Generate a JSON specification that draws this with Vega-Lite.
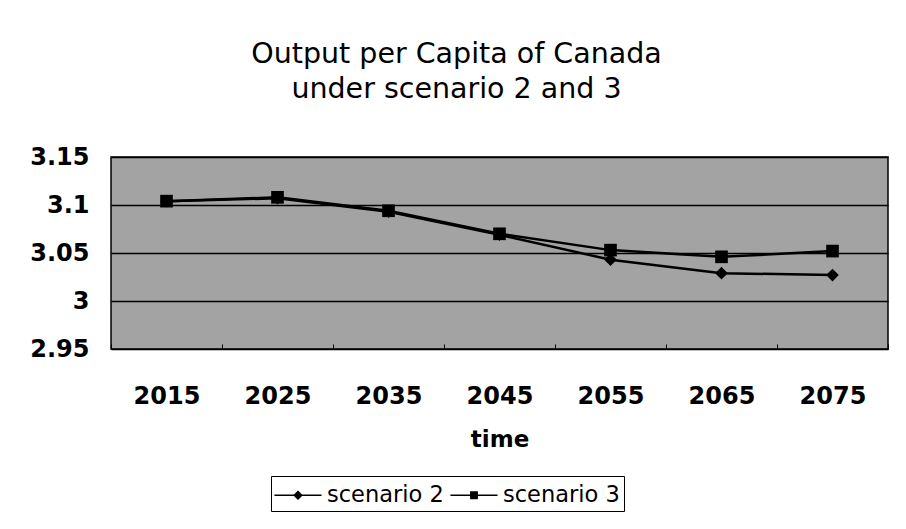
{
  "$schema": "https://vega.github.io/schema/vega-lite/v6.json",
  "width": 777,
  "height": 192,
  "autosize": {"type": "none"},
  "padding": {"left": 111, "top": 157, "right": 18, "bottom": 180},
  "background": "white",
  "title": {
    "text": ["Output per Capita of Canada", "under scenario 2 and 3"],
    "anchor": "middle",
    "frame": "group",
    "dx": -43,
    "offset": 42,
    "font": "DejaVu Sans, sans-serif",
    "fontSize": 28.5,
    "fontWeight": "normal",
    "lineHeight": 35,
    "color": "black"
  },
  "data": {
    "values": [
      {"year": "2015", "scenario": "scenario 2", "value": 3.104},
      {"year": "2025", "scenario": "scenario 2", "value": 3.107},
      {"year": "2035", "scenario": "scenario 2", "value": 3.093},
      {"year": "2045", "scenario": "scenario 2", "value": 3.069},
      {"year": "2055", "scenario": "scenario 2", "value": 3.043},
      {"year": "2065", "scenario": "scenario 2", "value": 3.029},
      {"year": "2075", "scenario": "scenario 2", "value": 3.027},
      {"year": "2015", "scenario": "scenario 3", "value": 3.104},
      {"year": "2025", "scenario": "scenario 3", "value": 3.108},
      {"year": "2035", "scenario": "scenario 3", "value": 3.094},
      {"year": "2045", "scenario": "scenario 3", "value": 3.070},
      {"year": "2055", "scenario": "scenario 3", "value": 3.053},
      {"year": "2065", "scenario": "scenario 3", "value": 3.046},
      {"year": "2075", "scenario": "scenario 3", "value": 3.052}
    ]
  },
  "encoding": {
    "x": {
      "field": "year",
      "type": "ordinal",
      "scale": {"paddingInner": 0, "paddingOuter": 0},
      "axis": {
        "title": "time",
        "labelAngle": 0,
        "grid": false,
        "domain": false,
        "ticks": true,
        "tickBand": "extent",
        "tickSize": -5,
        "tickColor": "black",
        "labelFontSize": 24,
        "labelFontWeight": "bold",
        "labelPadding": 40,
        "titleFontSize": 23,
        "titleFontWeight": "bold",
        "titlePadding": 20
      }
    },
    "y": {
      "field": "value",
      "type": "quantitative",
      "scale": {"domain": [2.95, 3.15], "zero": false, "nice": false},
      "axis": {
        "title": null,
        "values": [2.95, 3, 3.05, 3.1, 3.15],
        "format": ".2~f",
        "grid": true,
        "gridColor": "black",
        "gridWidth": 1.5,
        "gridOpacity": 1,
        "domain": false,
        "ticks": false,
        "labelFontSize": 24,
        "labelFontWeight": "bold",
        "labelPadding": 22
      }
    }
  },
  "layer": [
    {
      "mark": {"type": "line", "color": "black", "strokeWidth": 2.5},
      "encoding": {"detail": {"field": "scenario"}}
    },
    {
      "mark": {"type": "point", "filled": true, "color": "black", "opacity": 1, "size": 160},
      "encoding": {
        "shape": {
          "field": "scenario",
          "type": "nominal",
          "scale": {"domain": ["scenario 2", "scenario 3"], "range": ["diamond", "square"]},
          "legend": null
        }
      }
    },
    {
      "mark": {"type": "point", "filled": true, "color": "black", "opacity": 0, "size": 10},
      "encoding": {
        "shape": {
          "field": "scenario",
          "type": "nominal",
          "scale": {
            "domain": ["scenario 2", "scenario 3"],
            "range": [
              "M-1.57,-0.055H1.57V0.055H-1.57Z M0,-0.32L0.32,0L0,0.32L-0.32,0Z",
              "M-1.57,-0.055H1.57V0.055H-1.57Z M-0.26,-0.26H0.26V0.26H-0.26Z"
            ]
          },
          "legend": {
            "title": null,
            "orient": "none",
            "direction": "horizontal",
            "legendX": 160,
            "legendY": 319,
            "strokeColor": "black",
            "padding": 4,
            "symbolSize": 900,
            "symbolOffset": 8,
            "symbolStrokeWidth": 0,
            "symbolFillColor": "black",
            "symbolOpacity": 1,
            "labelFontSize": 22.5,
            "labelColor": "black",
            "labelOffset": 14,
            "columnPadding": 6
          }
        }
      }
    }
  ],
  "resolve": {"scale": {"shape": "independent"}, "legend": {"shape": "independent"}},
  "config": {
    "font": "DejaVu Sans, sans-serif",
    "view": {"fill": "#a3a3a3", "stroke": "black", "strokeWidth": 1.5},
    "axis": {"labelColor": "black", "titleColor": "black"}
  }
}
